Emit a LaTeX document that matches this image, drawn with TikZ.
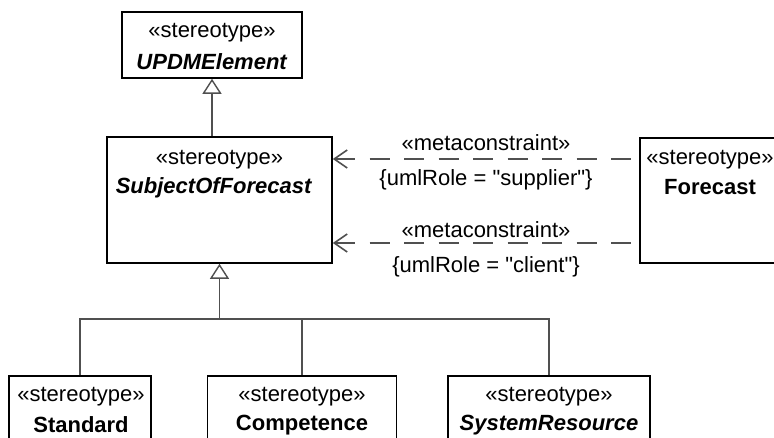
\documentclass[tikz,border=0pt]{standalone}
\usepackage{fontspec}
\setmainfont{Liberation Sans}[Ligatures=TeXOff]
\usetikzlibrary{arrows.meta}
\definecolor{linegray}{HTML}{505050}
\begin{document}
\begin{tikzpicture}[x=1pt,y=-1pt,
  box/.style={draw=black, line width=1.6pt, rectangle, inner sep=0pt, fill=white},
  txt/.style={font=\fontsize{22}{26}\selectfont, inner sep=0pt},
  gen/.style={draw=linegray, line width=1.6pt,
    -{Triangle[open, length=15pt, width=19pt, line width=1.4pt]}},
  tree/.style={draw=linegray, line width=1.6pt},
  dep/.style={draw=linegray, line width=1.6pt, dash pattern=on 20pt off 14.5pt,
    {Straight Barb[length=13pt, width=18pt, line width=1.6pt]}-}
]
\clip (0,0) rectangle (774,438);

% classifier boxes
\node[box, minimum width=180pt, minimum height=66pt] (upd) at (212,45) {};
\node[box, minimum width=225pt, minimum height=126pt] (sof) at (219.5,200) {};
\node[box, minimum width=140pt, minimum height=125pt] (fc) at (710,200.5) {};
\node[box, minimum width=142pt, minimum height=84pt] (std) at (80,418) {};
\node[box, minimum width=189pt, minimum height=84pt] (comp) at (302,418) {};
\node[box, minimum width=202pt, minimum height=84pt] (sys) at (549,418) {};

% box texts
\node[txt] (updS) at (212,33) {«stereotype»};
\node[txt] (updN) at (212,62) {\textbf{\textit{UPDMElement}}};
\node[txt] (sofS) at (219.5,160) {«stereotype»};
\node[txt] (sofN) at (214,188) {\textbf{\textit{SubjectOfForecast}}};
\node[txt] (fcS) at (710,160) {«stereotype»};
\node[txt] (fcN) at (710,187) {\textbf{Forecast}};
\node[txt] (stdS) at (81,397) {«stereotype»};
\node[txt] (stdN) at (81,425) {\textbf{Standard}};
\node[txt] (compS) at (302,397) {«stereotype»};
\node[txt] (compN) at (302,425) {\textbf{Competence}};
\node[txt] (sysS) at (549,397) {«stereotype»};
\node[txt] (sysN) at (549,425) {\textbf{\textit{SystemResource}}};

% generalization SubjectOfForecast -> UPDMElement
\draw[gen] (upd.south |- sof.north) -- (upd.south);

% generalization tree of the three specializations
\coordinate (bus) at (219.5,319);
\draw[tree] (std.north) |- (bus) -| (sys.north);
\draw[tree] (comp.north) -- (comp.north |- bus);
\draw[gen] (bus) -- (sof.south);

% metaconstraint dependencies from Forecast
\draw[dep] ([yshift=41pt]sof.east) -- ([yshift=41.5pt]fc.west)
  node[txt, midway, yshift=16pt] (mc1) {«metaconstraint»}
  node[txt, midway, yshift=-21pt] (r1) {\{umlRole = "supplier"\}};
\draw[dep] ([yshift=-43pt]sof.east) -- ([yshift=-42.5pt]fc.west)
  node[txt, midway, yshift=13pt] (mc2) {«metaconstraint»}
  node[txt, midway, yshift=-24pt] (r2) {\{umlRole = "client"\}};
\end{tikzpicture}
\end{document}
